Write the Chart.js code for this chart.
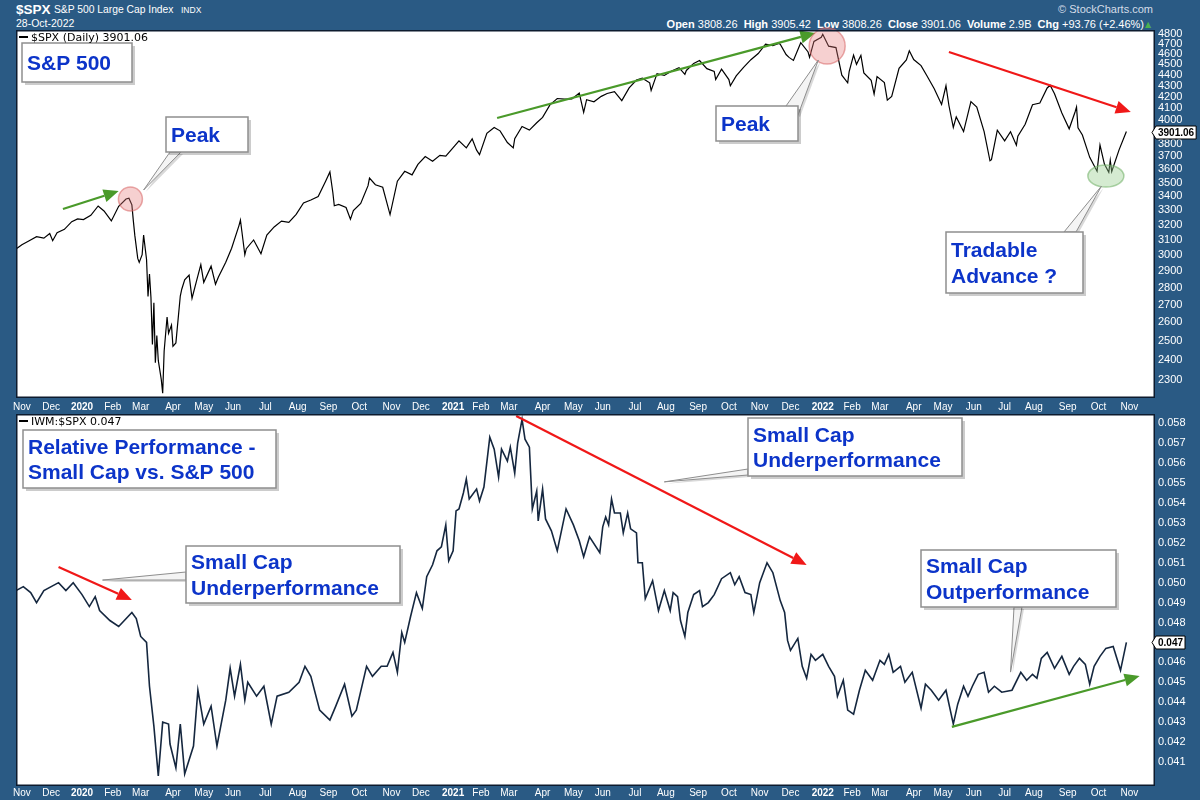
<!DOCTYPE html>
<html>
<head>
<meta charset="utf-8">
<script src="https://cdn.jsdelivr.net/npm/chart.js@4.4.1/dist/chart.umd.min.js"></script>
<style>
  html, body { margin: 0; padding: 0; background: #2a5a84; }
  #page { position: relative; width: 1200px; height: 800px; overflow: hidden; background: #2a5a84; font-family: "Liberation Sans", Arial, sans-serif; }
  .t { position: absolute; line-height: 1; white-space: nowrap; color: #fff; }
  canvas { position: absolute; left: 0; }
</style>
</head>
<body>
<div id="page">
  <div class="t" style="left:16px;top:3px;font-size:13.5px;font-weight:bold;">$SPX</div>
  <div class="t" style="left:54px;top:4.5px;font-size:10.3px;">S&amp;P 500 Large Cap Index</div>
  <div class="t" style="left:181px;top:5.5px;font-size:8.5px;">INDX</div>
  <div class="t" style="left:16px;top:18px;font-size:10.5px;">28-Oct-2022</div>
  <div class="t" style="right:47px;top:3.5px;font-size:11px;color:#d5dde8;">© StockCharts.com</div>
  <div class="t" style="right:56px;top:18.5px;font-size:11px;"><b>Open</b> 3808.26&nbsp; <b>High</b> 3905.42&nbsp; <b>Low</b> 3808.26&nbsp; <b>Close</b> 3901.06&nbsp; <b>Volume</b> 2.9B&nbsp; <b>Chg</b> +93.76 (+2.46%)</div>
  <div class="t" style="left:1145px;top:20.5px;font-size:8px;color:#4caf50;font-family:'DejaVu Sans';">▲</div>
  <canvas id="spxChart" width="1200" height="396" style="top:20px"></canvas>
  <canvas id="relChart" width="1200" height="396" style="top:404px"></canvas>
</div>
<script>
// ---- data ----
const spxDates = [
  '2019-10-28','2019-11-01','2019-11-08','2019-11-15','2019-11-22','2019-11-29','2019-12-03','2019-12-06','2019-12-13','2019-12-20','2019-12-27',
  '2020-01-03','2020-01-10','2020-01-17','2020-01-24','2020-01-31','2020-02-07','2020-02-14','2020-02-19','2020-02-21','2020-02-24','2020-02-25',
  '2020-02-27','2020-02-28','2020-03-03','2020-03-04','2020-03-06','2020-03-09','2020-03-10','2020-03-11','2020-03-12','2020-03-13','2020-03-16',
  '2020-03-17','2020-03-18','2020-03-20','2020-03-23','2020-03-24','2020-03-26','2020-03-27','2020-03-31','2020-04-01','2020-04-03','2020-04-08',
  '2020-04-09','2020-04-14','2020-04-17','2020-04-21','2020-04-24','2020-04-29','2020-05-01','2020-05-08','2020-05-13','2020-05-15','2020-05-22',
  '2020-05-29','2020-06-05','2020-06-08','2020-06-11','2020-06-12','2020-06-19','2020-06-26','2020-07-02','2020-07-10','2020-07-17','2020-07-24',
  '2020-07-31','2020-08-07','2020-08-14','2020-08-21','2020-08-28','2020-09-02','2020-09-04','2020-09-08','2020-09-11','2020-09-18','2020-09-23',
  '2020-09-25','2020-10-02','2020-10-09','2020-10-12','2020-10-16','2020-10-23','2020-10-30','2020-11-06','2020-11-13','2020-11-20','2020-11-27',
  '2020-12-04','2020-12-11','2020-12-18','2020-12-24','2020-12-31','2021-01-08','2021-01-15','2021-01-22','2021-01-27','2021-01-29','2021-02-05',
  '2021-02-12','2021-02-19','2021-02-26','2021-03-04','2021-03-05','2021-03-12','2021-03-19','2021-03-26','2021-04-01','2021-04-09','2021-04-16',
  '2021-04-23','2021-04-30','2021-05-07','2021-05-12','2021-05-14','2021-05-21','2021-05-28','2021-06-04','2021-06-11','2021-06-18','2021-06-25',
  '2021-07-02','2021-07-09','2021-07-16','2021-07-19','2021-07-23','2021-07-30','2021-08-06','2021-08-13','2021-08-19','2021-08-20','2021-08-27',
  '2021-09-02','2021-09-10','2021-09-17','2021-09-20','2021-09-24','2021-10-01','2021-10-04','2021-10-08','2021-10-15','2021-10-22','2021-10-29',
  '2021-11-05','2021-11-12','2021-11-18','2021-11-19','2021-11-26','2021-11-30','2021-12-03','2021-12-10','2021-12-17','2021-12-20','2021-12-23',
  '2021-12-31','2022-01-03','2022-01-07','2022-01-14','2022-01-21','2022-01-27','2022-01-28','2022-02-02','2022-02-04','2022-02-09','2022-02-11',
  '2022-02-18','2022-02-23','2022-02-25','2022-03-04','2022-03-08','2022-03-11','2022-03-18','2022-03-25','2022-03-29','2022-04-01','2022-04-08',
  '2022-04-14','2022-04-22','2022-04-29','2022-05-04','2022-05-06','2022-05-11','2022-05-13','2022-05-20','2022-05-27','2022-06-03','2022-06-10',
  '2022-06-16','2022-06-17','2022-06-24','2022-07-01','2022-07-08','2022-07-14','2022-07-15','2022-07-22','2022-07-29','2022-08-05','2022-08-12',
  '2022-08-16','2022-08-19','2022-08-26','2022-09-02','2022-09-09','2022-09-12','2022-09-13','2022-09-16','2022-09-23','2022-09-30','2022-10-04',
  '2022-10-07','2022-10-12','2022-10-13','2022-10-14','2022-10-21','2022-10-28'
];
const spxClose = [
  3039,3067,3093,3120,3110,3141,3093,3146,3169,3221,3240,
  3235,3265,3330,3295,3226,3328,3380,3386,3338,3226,3128,
  2979,2954,3003,3130,2972,2747,2882,2741,2481,2711,2386,
  2529,2398,2305,2237,2447,2630,2541,2585,2471,2489,2750,
  2790,2846,2875,2737,2837,2940,2831,2930,2820,2864,2955,
  3044,3194,3232,3002,3041,3098,3009,3130,3185,3225,3216,
  3271,3351,3373,3397,3508,3580,3427,3332,3341,3319,3237,
  3298,3348,3477,3534,3484,3465,3270,3510,3585,3558,3638,
  3699,3663,3709,3703,3756,3825,3768,3841,3750,3714,3887,
  3934,3907,3811,3768,3842,3943,3913,3975,4020,4129,4185,
  4180,4181,4233,4063,4174,4156,4204,4230,4247,4166,4281,
  4352,4370,4327,4258,4412,4395,4437,4468,4406,4442,4509,
  4537,4459,4433,4358,4455,4357,4300,4391,4471,4545,4605,
  4697,4683,4705,4698,4595,4567,4538,4712,4620,4568,4725,
  4766,4797,4677,4663,4398,4327,4432,4589,4500,4587,4419,
  4349,4225,4385,4329,4170,4204,4463,4543,4632,4546,4488,
  4392,4272,4132,4300,4123,3935,4024,3901,4158,4109,3901,
  3666,3675,3912,3825,3899,3790,3863,3962,4130,4145,4280,
  4305,4228,4058,3924,4067,4110,3933,3873,3693,3586,3791,
  3640,3577,3670,3583,3752,3901
];

const relDates = [
  '2019-10-28','2019-11-04','2019-11-11','2019-11-15','2019-11-22','2019-12-09','2019-12-16','2019-12-23','2020-01-02','2020-01-09','2020-01-15',
  '2020-01-21','2020-01-30','2020-02-07','2020-02-21','2020-02-26','2020-03-02','2020-03-06','2020-03-10','2020-03-13','2020-03-18','2020-03-23',
  '2020-03-27','2020-03-30','2020-04-03','2020-04-08','2020-04-14','2020-04-22','2020-04-27','2020-05-01','2020-05-08','2020-05-14','2020-05-22',
  '2020-05-28','2020-06-02','2020-06-08','2020-06-11','2020-06-15','2020-06-23','2020-06-30','2020-07-08','2020-07-14','2020-07-24','2020-08-04',
  '2020-08-10','2020-08-14','2020-08-24','2020-09-02','2020-09-09','2020-09-17','2020-09-24','2020-09-29','2020-10-08','2020-10-14','2020-10-22',
  '2020-10-28','2020-11-03','2020-11-06','2020-11-11','2020-11-13','2020-11-19','2020-11-25','2020-12-02','2020-12-07','2020-12-11','2020-12-16',
  '2020-12-21','2020-12-24','2020-12-29','2021-01-04','2021-01-06','2021-01-08','2021-01-13','2021-01-15','2021-01-20','2021-01-27','2021-01-29',
  '2021-02-03','2021-02-09','2021-02-12','2021-02-18','2021-02-22','2021-02-26','2021-03-02','2021-03-05','2021-03-09','2021-03-12','2021-03-16',
  '2021-03-19','2021-03-23','2021-03-26','2021-03-29','2021-04-01','2021-04-06','2021-04-12','2021-04-16','2021-04-26','2021-05-03','2021-05-07',
  '2021-05-12','2021-05-18','2021-05-27','2021-06-01','2021-06-03','2021-06-07','2021-06-09','2021-06-11','2021-06-17','2021-06-21','2021-06-24',
  '2021-06-28','2021-07-02','2021-07-06','2021-07-09','2021-07-13','2021-07-20','2021-07-26','2021-07-30','2021-08-05','2021-08-09','2021-08-12',
  '2021-08-16','2021-08-19','2021-08-23','2021-08-27','2021-09-02','2021-09-07','2021-09-13','2021-09-17','2021-09-24','2021-10-04','2021-10-07',
  '2021-10-12','2021-10-18','2021-10-22','2021-10-26','2021-11-01','2021-11-08','2021-11-12','2021-11-19','2021-11-24','2021-11-29','2021-12-01',
  '2021-12-08','2021-12-13','2021-12-16','2021-12-21','2021-12-27','2022-01-03','2022-01-07','2022-01-13','2022-01-18','2022-01-24','2022-01-27',
  '2022-02-02','2022-02-08','2022-02-14','2022-02-22','2022-03-01','2022-03-04','2022-03-09','2022-03-14','2022-03-21','2022-03-24','2022-03-31',
  '2022-04-08','2022-04-13','2022-04-20','2022-04-27','2022-05-04','2022-05-11','2022-05-16','2022-05-20','2022-05-25','2022-05-31','2022-06-06',
  '2022-06-10','2022-06-15','2022-06-22','2022-06-29','2022-07-11','2022-07-19','2022-07-25','2022-07-29','2022-08-03','2022-08-08','2022-08-12',
  '2022-08-19','2022-08-26','2022-09-02','2022-09-08','2022-09-14','2022-09-20','2022-09-23','2022-09-28','2022-10-04','2022-10-10','2022-10-17',
  '2022-10-24','2022-10-28'
];
const relValues = [
  0.0496,0.0498,0.0495,0.0490,0.0496,0.0500,0.0496,0.0500,0.0494,0.0488,0.0493,
  0.0486,0.0481,0.0478,0.0485,0.0482,0.0473,0.0470,0.0448,0.0428,0.0403,0.0430,
  0.0429,0.0419,0.0407,0.0429,0.0404,0.0418,0.0446,0.0429,0.0438,0.0418,0.0441,
  0.0457,0.0443,0.0459,0.0441,0.0450,0.0443,0.0448,0.0429,0.0443,0.0445,0.0450,
  0.0458,0.0453,0.0436,0.0431,0.0438,0.0449,0.0433,0.0436,0.0458,0.0453,0.0458,
  0.0458,0.0465,0.0455,0.0475,0.0470,0.0483,0.0495,0.0487,0.0503,0.0509,0.0516,
  0.0518,0.0529,0.0511,0.0516,0.0536,0.0537,0.0545,0.0552,0.0542,0.0547,0.0541,
  0.0548,0.0573,0.0567,0.0553,0.0567,0.0561,0.0568,0.0555,0.0570,0.0582,0.0572,
  0.0568,0.0537,0.0546,0.0531,0.0547,0.0532,0.0526,0.0516,0.0537,0.0529,0.0521,
  0.0513,0.0523,0.0515,0.0528,0.0533,0.0529,0.0542,0.0535,0.0535,0.0525,0.0535,
  0.0527,0.0525,0.0510,0.0510,0.0492,0.0501,0.0486,0.0496,0.0486,0.0495,0.0493,
  0.0481,0.0473,0.0485,0.0494,0.0496,0.0488,0.0490,0.0494,0.0502,0.0505,0.0499,
  0.0503,0.0495,0.0494,0.0485,0.0500,0.0510,0.0505,0.0491,0.0485,0.0471,0.0466,
  0.0472,0.0458,0.0452,0.0464,0.0461,0.0464,0.0458,0.0453,0.0443,0.0451,0.0436,
  0.0434,0.0446,0.0456,0.0451,0.0461,0.0459,0.0464,0.0455,0.0458,0.0450,0.0455,
  0.0437,0.0449,0.0446,0.0441,0.0446,0.0429,0.0439,0.0448,0.0443,0.0448,0.0454,
  0.0455,0.0445,0.0448,0.0445,0.0446,0.0455,0.0451,0.0454,0.0452,0.0462,0.0465,
  0.0457,0.0463,0.0454,0.0458,0.0462,0.0459,0.0449,0.0458,0.0463,0.0467,0.0468,
  0.0456,0.0470
];

const spxTicks = [2300,2400,2500,2600,2700,2800,2900,3000,3100,3200,3300,3400,3500,3600,3700,3800,4000,4100,4200,4300,4400,4500,4600,4700,4800];
const relTicks = [0.041,0.042,0.043,0.044,0.045,0.046,0.048,0.049,0.050,0.051,0.052,0.053,0.054,0.055,0.056,0.057,0.058];
const xTickLabels = ['Nov','Dec','2020','Feb','Mar','Apr','May','Jun','Jul','Aug','Sep','Oct','Nov','Dec','2021','Feb','Mar','Apr','May','Jun','Jul','Aug','Sep','Oct','Nov','Dec','2022','Feb','Mar','Apr','May','Jun','Jul','Aug','Sep','Oct','Nov'];
const holidays = ['2019-11-28','2019-12-25','2020-01-01','2020-01-20','2020-02-17','2020-04-10','2020-05-25','2020-07-03','2020-09-07','2020-11-26','2020-12-25',
  '2021-01-01','2021-01-18','2021-02-15','2021-04-02','2021-05-31','2021-07-05','2021-09-06','2021-11-25','2021-12-24','2022-01-17','2022-02-21',
  '2022-04-15','2022-05-30','2022-06-20','2022-07-04','2022-09-05','2022-11-24'];

// annotations, anchored in (date, value)
const spxNotes = [
  { kind: 'box', at: ['2019-11-01', 4709], w: 110, h: 39, text: ['S&P 500'] },
  { kind: 'ring', at: ['2020-02-20', 3380], rx: 12, ry: 12, color: 'red' },
  { kind: 'arrow', from: ['2019-12-12', 3309], to: ['2020-02-07', 3437], color: 'green' },
  { kind: 'callout', tip: ['2020-03-04', 3445], at: ['2020-03-25', 4024], w: 82, h: 35, base: [[4, 35], [15, 35]], text: ['Peak'] },
  { kind: 'arrow', from: ['2021-02-17', 4015], to: ['2021-12-27', 4810], color: 'green' },
  { kind: 'ring', at: ['2022-01-06', 4679], rx: 18, ry: 18, color: 'red' },
  { kind: 'callout', tip: ['2021-12-29', 4542], at: ['2021-09-20', 4119], w: 82, h: 35, base: [[70, 0], [82, 9]], text: ['Peak'] },
  { kind: 'arrow', from: ['2022-05-06', 4620], to: ['2022-11-02', 4067], color: 'red' },
  { kind: 'ring', at: ['2022-10-10', 3549], rx: 18, ry: 11, color: 'green' },
  { kind: 'callout', tip: ['2022-10-05', 3474], at: ['2022-05-04', 3151], w: 137, h: 61, base: [[118, 0], [130, 0]], text: ['Tradable', 'Advance ?'] }
];
const relNotes = [
  { kind: 'box', at: ['2019-11-04', 0.05766], w: 253, h: 58, text: ['Relative Performance -', 'Small Cap vs. S&P 500'] },
  { kind: 'arrow', from: ['2019-12-09', 0.05079], to: ['2020-02-21', 0.04913], color: 'red' },
  { kind: 'callout', tip: ['2020-01-23', 0.05013], at: ['2020-04-15', 0.05184], w: 214, h: 57, base: [[0, 26], [0, 34]], text: ['Small Cap', 'Underperformance'] },
  { kind: 'arrow', from: ['2021-03-08', 0.05837], to: ['2021-12-16', 0.05089], color: 'red' },
  { kind: 'callout', tip: ['2021-07-30', 0.05506], at: ['2021-10-20', 0.05827], w: 214, h: 58, base: [[0, 51], [0, 57]], text: ['Small Cap', 'Underperformance'] },
  { kind: 'callout', tip: ['2022-07-08', 0.04551], at: ['2022-04-08', 0.05164], w: 195, h: 57, base: [[93, 57], [101, 57]], text: ['Small Cap', 'Outperformance'] },
  { kind: 'arrow', from: ['2022-05-10', 0.04276], to: ['2022-11-10', 0.04531], color: 'green' }
];

// ---- trading sessions: x axis runs on session number ----
const sessions = [];
for (let t = Date.UTC(2019, 9, 28); t <= Date.UTC(2022, 11, 30); t += 864e5) {
  const d = new Date(t), wd = d.getUTCDay(), s = d.toISOString().slice(0, 10);
  if (wd !== 0 && wd !== 6 && !holidays.includes(s)) sessions.push(s);
}
function sessionOf(s) { return sessions.findIndex(v => v >= s); }

const monthTicks = xTickLabels.map((_, i) => {
  const y = 2019 + Math.floor((10 + i) / 12), m = (10 + i) % 12 + 1;
  return sessionOf(y + '-' + String(m).padStart(2, '0') + '-01');
});
const xMax = sessionOf('2022-10-28') + 19.5;

const colors = { red: '#f01818', green: '#4a9a2a' };
const noteFont = 'bold 21px "Liberation Sans", Arial, sans-serif';

function drawArrow(ctx, x0, y0, x1, y1, color) {
  const a = Math.atan2(y1 - y0, x1 - x0), L = 15, W = 6.5;
  const bx = x1 - L * Math.cos(a), by = y1 - L * Math.sin(a);
  ctx.strokeStyle = color; ctx.lineWidth = 2.2;
  ctx.beginPath(); ctx.moveTo(x0, y0); ctx.lineTo(bx, by); ctx.stroke();
  ctx.fillStyle = color;
  ctx.beginPath();
  ctx.moveTo(x1, y1);
  ctx.lineTo(bx - W * Math.sin(a), by + W * Math.cos(a));
  ctx.lineTo(bx + W * Math.sin(a), by - W * Math.cos(a));
  ctx.closePath(); ctx.fill();
}

function drawBox(ctx, x, y, w, h, lines) {
  ctx.fillStyle = 'rgba(0,0,0,0.2)';
  ctx.fillRect(x + 3, y + 3, w, h);
  ctx.fillStyle = '#fff';
  ctx.fillRect(x, y, w, h);
  ctx.strokeStyle = '#8e8e8e'; ctx.lineWidth = 1.5;
  ctx.strokeRect(x, y, w, h);
  ctx.fillStyle = '#0c34c9'; ctx.font = noteFont; ctx.textBaseline = 'alphabetic';
  const lh = 25.7, cap = 15;
  const by = y + (h - ((lines.length - 1) * lh + cap)) / 2 + cap;
  lines.forEach((t, i) => ctx.fillText(t, x + 5, by + i * lh));
}

function drawNotes(chart, notes) {
  const { ctx, scales } = chart;
  const px = d => scales.x.getPixelForValue(sessionOf(d));
  const py = v => scales.y.getPixelForValue(v);
  ctx.save();
  notes.forEach(n => {
    if (n.kind === 'arrow') {
      drawArrow(ctx, px(n.from[0]), py(n.from[1]), px(n.to[0]), py(n.to[1]), colors[n.color]);
    } else if (n.kind === 'ring') {
      ctx.beginPath();
      ctx.ellipse(px(n.at[0]), py(n.at[1]), n.rx, n.ry, 0, 0, Math.PI * 2);
      ctx.fillStyle = n.color === 'red' ? 'rgba(228,120,120,0.35)' : 'rgba(150,205,140,0.4)';
      ctx.strokeStyle = n.color === 'red' ? 'rgba(215,100,100,0.55)' : 'rgba(120,180,110,0.6)';
      ctx.lineWidth = 1.5; ctx.fill(); ctx.stroke();
    } else {
      const x = Math.round(px(n.at[0])), y = Math.round(py(n.at[1]));
      if (n.kind === 'callout') {
        const tx = px(n.tip[0]), ty = py(n.tip[1]);
        [[2, 2, 'rgba(0,0,0,0.15)', null], [0, 0, '#f4f4f4', '#8e8e8e']].forEach(([ox, oy, fill, stroke]) => {
          ctx.beginPath();
          ctx.moveTo(tx + ox, ty + oy);
          ctx.lineTo(x + n.base[0][0] + ox, y + n.base[0][1] + oy);
          ctx.lineTo(x + n.base[1][0] + ox, y + n.base[1][1] + oy);
          ctx.closePath();
          ctx.fillStyle = fill; ctx.fill();
          if (stroke) { ctx.strokeStyle = stroke; ctx.lineWidth = 1; ctx.stroke(); }
        });
      }
      drawBox(ctx, x, y, n.w, n.h, n.text);
    }
  });
  ctx.restore();
}

function panelPlugin(notes, legend, last, lastText) {
  return {
    id: 'panel',
    beforeDraw(chart) {
      const { ctx, chartArea: a } = chart;
      ctx.save();
      ctx.fillStyle = '#fff';
      ctx.fillRect(a.left, a.top, a.right - a.left, a.bottom - a.top);
      ctx.restore();
    },
    afterDatasetsDraw(chart) { drawNotes(chart, notes); },
    afterDraw(chart) {
      const { ctx, chartArea: a } = chart;
      ctx.save();
      ctx.strokeStyle = '#0d1b2e'; ctx.lineWidth = 1.5;
      ctx.strokeRect(a.left + 0.75, a.top + 0.75, a.right - a.left - 1.5, a.bottom - a.top - 1.5);
      // legend line
      ctx.fillStyle = '#000';
      ctx.fillRect(a.left + 3, a.top + 6, 9, 2);
      ctx.font = '11px "DejaVu Sans", sans-serif';
      ctx.textBaseline = 'alphabetic';
      ctx.fillText(legend, a.left + 15, a.top + 11);
      // last value badge
      const yb = Math.round(chart.scales.y.getPixelForValue(last)) + 0.5;
      ctx.font = 'bold 10px "Liberation Sans", Arial, sans-serif';
      const w = ctx.measureText(lastText).width + 4;
      const x0 = a.right - 3;
      ctx.beginPath();
      ctx.moveTo(x0, yb);
      ctx.lineTo(x0 + 4, yb - 6.5);
      ctx.lineTo(x0 + 4 + w, yb - 6.5);
      ctx.lineTo(x0 + 4 + w, yb + 6.5);
      ctx.lineTo(x0 + 4, yb + 6.5);
      ctx.closePath();
      ctx.fillStyle = '#fff'; ctx.fill();
      ctx.strokeStyle = '#000'; ctx.lineWidth = 1; ctx.stroke();
      ctx.fillStyle = '#000'; ctx.textBaseline = 'middle';
      ctx.fillText(lastText, x0 + 6, yb + 0.5);
      ctx.restore();
    }
  };
}

function xScale(bandHeight, pad) {
  return {
    type: 'linear', min: 0, max: xMax,
    afterBuildTicks: s => { s.ticks = monthTicks.map(v => ({ value: v })); },
    afterFit: s => { s.height = bandHeight; },
    grid: { display: false, drawTicks: false },
    border: { display: false },
    ticks: {
      autoSkip: false, maxRotation: 0, padding: pad, color: '#fff',
      callback: (v, i) => xTickLabels[i],
      font: c => ({ family: '"Liberation Sans", Arial, sans-serif', size: 10, weight: /^\d{4}$/.test(xTickLabels[c.index]) ? 'bold' : 'normal' })
    }
  };
}

function yScale(type, min, max, ticks, fmt) {
  return {
    type, position: 'right', min, max,
    afterBuildTicks: s => { s.ticks = ticks.map(v => ({ value: v })); },
    afterFit: s => { s.width = 45; },
    grid: { display: false, drawTicks: false },
    border: { display: false },
    ticks: { autoSkip: false, padding: 3, color: '#fff', font: { family: '"Liberation Sans", Arial, sans-serif', size: 11 }, callback: fmt }
  };
}

Chart.defaults.animation = false;

new Chart(document.getElementById('spxChart'), {
  type: 'line',
  data: {
    datasets: [{
      data: spxDates.map((d, i) => ({ x: sessionOf(d), y: spxClose[i] })),
      borderColor: '#000', borderWidth: 1.2, pointRadius: 0, tension: 0
    }]
  },
  options: {
    responsive: false,
    layout: { padding: { top: 10, left: 16, right: 0, bottom: 0 } },
    plugins: { legend: { display: false }, tooltip: { enabled: false } },
    scales: {
      x: xScale(18, 3),
      y: yScale('logarithmic', 2214, 4841, spxTicks, v => String(v))
    }
  },
  plugins: [panelPlugin(spxNotes, '$SPX (Daily) 3901.06', 3901.06, '3901.06')]
});

new Chart(document.getElementById('relChart'), {
  type: 'line',
  data: {
    datasets: [{
      data: relDates.map((d, i) => ({ x: sessionOf(d), y: relValues[i] })),
      borderColor: '#15273f', borderWidth: 1.6, pointRadius: 0, tension: 0
    }]
  },
  options: {
    responsive: false,
    layout: { padding: { top: 10, left: 16, right: 0, bottom: 0 } },
    plugins: { legend: { display: false }, tooltip: { enabled: false } },
    scales: {
      x: xScale(14, 1),
      y: yScale('linear', 0.039792, 0.058467, relTicks, v => Number(v).toFixed(3))
    }
  },
  plugins: [panelPlugin(relNotes, 'IWM:$SPX 0.047', 0.047, '0.047')]
});
</script>
</body>
</html>
